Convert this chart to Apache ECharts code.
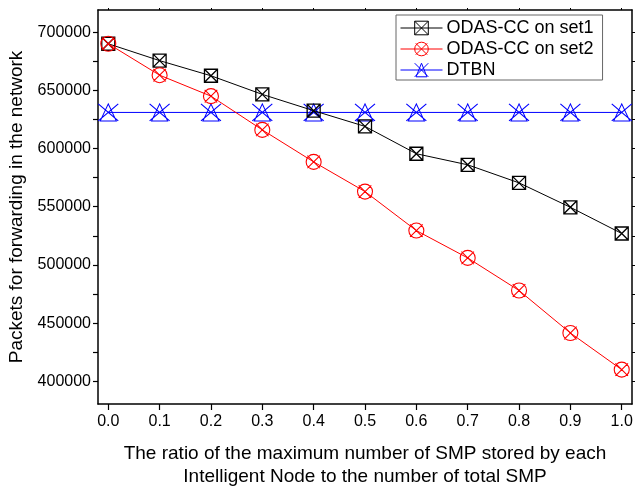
<!DOCTYPE html>
<html><head><meta charset="utf-8">
<script src="https://cdn.jsdelivr.net/npm/echarts@6/dist/echarts.min.js"></script>
<style>html,body{margin:0;padding:0;background:#fff}#c{width:635px;height:487px}</style>
</head><body><div id="c"></div>
<script>
const ratios = [0.0, 0.1, 0.2, 0.3, 0.4, 0.5, 0.6, 0.7, 0.8, 0.9, 1.0];
const set1 = [690000, 675500, 662500, 646500, 632500, 619000, 595500, 586000, 570500, 549500, 527000];
const set2 = [690000, 663000, 645000, 616000, 588500, 563000, 529500, 506000, 478000, 441500, 410000];
const dtbn = [631000, 631000, 631000, 631000, 631000, 631000, 631000, 631000, 631000, 631000, 631000];
const xTicks = [0.0, 0.1, 0.2, 0.3, 0.4, 0.5, 0.6, 0.7, 0.8, 0.9, 1.0];
const yLabels = [400000, 450000, 500000, 550000, 600000, 650000, 700000];
const yTicks = [400000, 425000, 450000, 475000, 500000, 525000, 550000, 575000, 600000, 625000, 650000, 675000, 700000];
const seriesNames = ['ODAS-CC on set1', 'ODAS-CC on set2', 'DTBN'];

const FONT = 'Liberation Sans, Arial, sans-serif';
const symSquare = 'path://M0,0 L10,0 L10,10 L0,10 Z M0,0 L10,10 M10,0 L0,10';
const symCircle = 'path://M0,5 A5,5 0 1,1 10,5 A5,5 0 1,1 0,5 Z M0.8,0.8 L9.2,9.2 M9.2,0.8 L0.8,9.2';
const symTri = 'path://M5,0 L9,10 L1,10 Z M0,0 L10,10 M10,0 L0,10';

function pairs(vals){ return ratios.map((x,i)=>[x, vals[i]]); }

const chart = echarts.init(document.getElementById('c'), null, {renderer:'canvas'});
chart.setOption({
  animation: false,
  backgroundColor: '#fff',
  textStyle: {fontFamily: FONT},
  grid: {left: 98, right: 3, top: 10, bottom: 83, containLabel: false, outerBoundsMode: 'none'},
  legend: {
    orient: 'vertical', left: 396, top: 15,
    padding: [4, 9, 1, 4],
    itemGap: 3, itemWidth: 42, itemHeight: 17,
    borderColor: '#666', borderWidth: 1,
    itemStyle: {borderWidth: 1},
    lineStyle: {width: 1},
    textStyle: {fontSize: 18, color: '#000', fontFamily: FONT, padding: [0, 0, 0, -1]},
    data: seriesNames
  },
  xAxis: [{
    type: 'value', min: -0.02, max: 1.02,
    axisLine: {show: true, onZero: false, lineStyle: {color: '#000', width: 1.5}},
    axisTick: {show: true, inside: false, length: 6, customValues: xTicks, lineStyle: {color: '#000', width: 1.2}},
    axisLabel: {customValues: xTicks, formatter: v => v.toFixed(1), fontSize: 16, color: '#000', margin: 10, fontFamily: FONT},
    splitLine: {show: false},
    name: 'The ratio of the maximum number of SMP stored by each\nIntelligent Node to the number of total SMP',
    nameLocation: 'middle', nameGap: 38,
    nameTextStyle: {fontSize: 19, color: '#000', lineHeight: 23, fontFamily: FONT}
  }, {
    type: 'value', position: 'top', min: -0.02, max: 1.02,
    axisLine: {show: true, onZero: false, lineStyle: {color: '#000', width: 1.5}},
    axisTick: {show: true, inside: false, length: 2, customValues: xTicks, lineStyle: {color: '#000'}},
    axisLabel: {show: false}, splitLine: {show: false}
  }],
  yAxis: [{
    type: 'value', min: 380500, max: 719000,
    axisLine: {show: true, onZero: false, lineStyle: {color: '#000', width: 1.5}},
    axisTick: {show: true, inside: false, length: 5, customValues: yTicks, lineStyle: {color: '#000', width: 1.2}},
    axisLabel: {customValues: yLabels, formatter: v => String(v), fontSize: 16, color: '#000', margin: 7, fontFamily: FONT},
    splitLine: {show: false},
    name: 'Packets for forwarding in the network',
    nameLocation: 'middle', nameGap: 68,
    nameTextStyle: {fontSize: 19, color: '#000', fontFamily: FONT}
  }, {
    type: 'value', position: 'right', min: 380500, max: 719000,
    axisLine: {show: true, onZero: false, lineStyle: {color: '#000', width: 1.5}},
    axisTick: {show: true, inside: false, length: 5, customValues: yTicks, lineStyle: {color: '#000'}},
    axisLabel: {show: false}, splitLine: {show: false}
  }],
  series: [
    {
      name: seriesNames[0], type: 'line', data: pairs(set1), z: 3,
      symbol: symSquare, symbolSize: 13,
      lineStyle: {color: '#000', width: 1},
      itemStyle: {color: 'rgba(255,255,255,0)', borderColor: '#000', borderWidth: 1.3}
    },
    {
      name: seriesNames[1], type: 'line', data: pairs(set2), z: 4,
      symbol: symCircle, symbolSize: 15,
      lineStyle: {color: '#ff0000', width: 1},
      itemStyle: {color: 'rgba(255,255,255,0)', borderColor: '#ff0000', borderWidth: 1.1}
    },
    {
      name: seriesNames[2], type: 'line', data: pairs(dtbn), z: 2,
      symbol: symTri, symbolSize: [20, 17],
      lineStyle: {color: '#0000ff', width: 1},
      itemStyle: {color: 'rgba(255,255,255,0)', borderColor: '#0000ff', borderWidth: 1}
    }
  ]
});
</script></body></html>
